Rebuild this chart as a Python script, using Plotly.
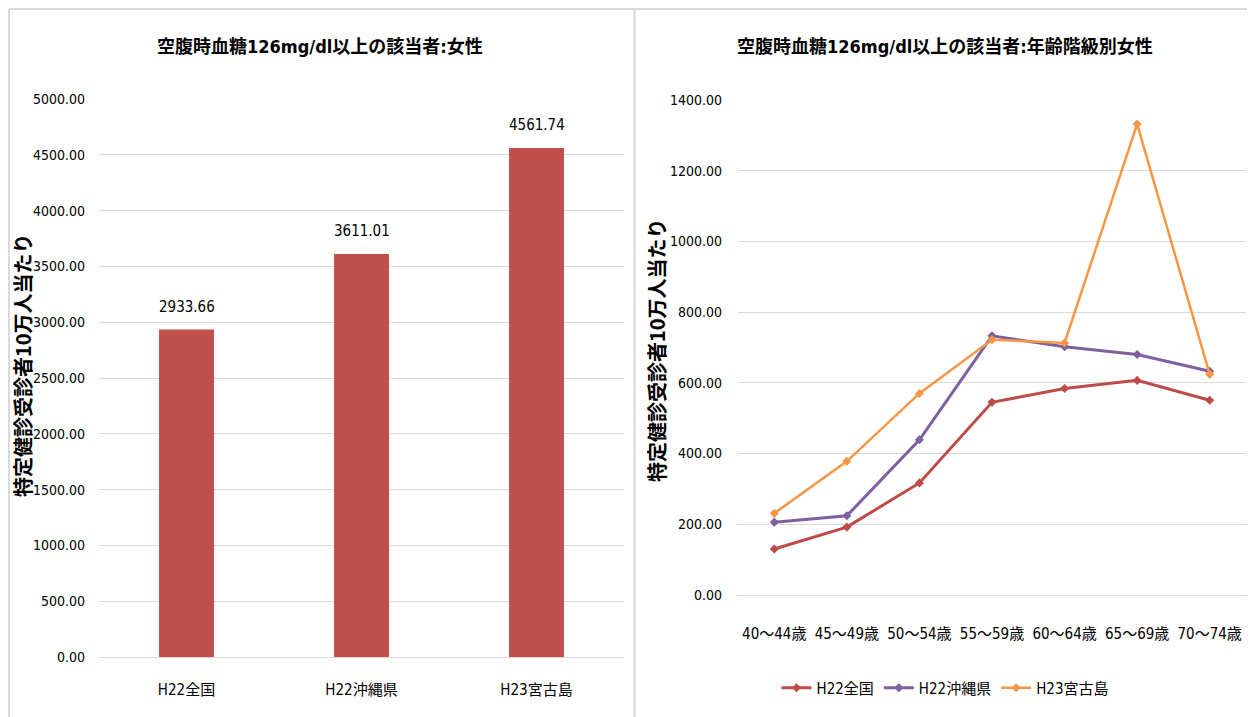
import plotly.graph_objects as go

# ---- data ----
bar_categories = ["H22全国", "H22沖縄県", "H23宮古島"]
bar_values = [2933.66, 3611.01, 4561.74]

age_groups = ["40～44歳", "45～49歳", "50～54歳", "55～59歳", "60～64歳", "65～69歳", "70～74歳"]
series_names = ["H22全国", "H22沖縄県", "H23宮古島"]
national = [130, 192, 317, 545, 584, 607, 551]
okinawa = [206, 224, 439, 733, 702, 680, 633]
miyako = [231, 378, 570, 722, 713, 1332, 624]

left_title = "空腹時血糖126mg/dl以上の該当者:女性"
right_title = "空腹時血糖126mg/dl以上の該当者:年齢階級別女性"
y_title = "特定健診受診者10万人当たり"

W, H = 1255, 717
OFF = 8  # page body margin
FONT = "Liberation Sans Narrow, DejaVu Sans Condensed, Noto Sans CJK JP, sans-serif"
CJK = "Noto Sans CJK JP"
GRID = "#D9D9D9"
TXT = "#000000"

def px(x):
    return (x - OFF) / W

def py(y):
    return 1 - (y - OFF) / H

fig = go.Figure()

# left bar chart
fig.add_trace(go.Bar(
    x=bar_categories, y=bar_values, marker_color="#C0504D",
    marker_line_width=0, xaxis="x", yaxis="y", showlegend=False,
))
for c, v in zip(bar_categories, bar_values):
    fig.add_annotation(x=c, y=v, xref="x", yref="y", text=f"{v:.2f}",
                       showarrow=False, yshift=23, xanchor="center", yanchor="middle",
                       font=dict(family=FONT, size=15, color=TXT))

colors = ["#BE4B48", "#7D60A0", "#F79646"]
widths = [3, 3, 2.5]
for name, vals, col, w in zip(series_names, [national, okinawa, miyako], colors, widths):
    fig.add_trace(go.Scatter(
        x=age_groups, y=vals, name=name, mode="lines+markers",
        line=dict(color=col, width=w),
        marker=dict(color=col, size=7, symbol="diamond"),
        xaxis="x2", yaxis="y2",
    ))

axis_font = dict(family=FONT, size=14, color=TXT)
xcat_font = dict(family=FONT, size=15, color=TXT)

fig.update_layout(
    width=W, height=H,
    margin=dict(l=0, r=0, t=0, b=0, pad=0),
    paper_bgcolor="white", plot_bgcolor="white",
    bargap=0.686,
    xaxis=dict(domain=[px(99), px(624)], anchor="y", tickfont=xcat_font,
               showgrid=False, showline=False, ticks="", automargin=False,
               range=[-0.5, 2.5], ticklabelstandoff=22),
    yaxis=dict(domain=[py(657), py(99)], anchor="x", range=[0, 5000],
               dtick=500, tickformat=".2f", tickfont=axis_font, automargin=False,
               gridcolor=GRID, gridwidth=1, zeroline=True, zerolinecolor=GRID,
               zerolinewidth=1, showline=False, ticks="", ticklabelstandoff=13),
    xaxis2=dict(domain=[px(738), px(1246)], anchor="y2", tickfont=xcat_font,
                showgrid=False, showline=False, ticks="", range=[-0.5, 6.5],
                automargin=False, ticklabelstandoff=28),
    yaxis2=dict(domain=[py(595), py(100)], anchor="x2", range=[0, 1400],
                dtick=200, tickformat=".2f", tickfont=axis_font, automargin=False,
                gridcolor=GRID, gridwidth=1, zeroline=True, zerolinecolor=GRID,
                zerolinewidth=1, showline=False, ticks="", ticklabelstandoff=15),
    legend=dict(orientation="h", x=px(945), y=py(688), xanchor="center",
                yanchor="middle", font=dict(family=FONT, size=15, color=TXT),
                itemwidth=30, tracegroupgap=0, bgcolor="rgba(0,0,0,0)"),
    showlegend=True,
)

# titles
fig.add_annotation(x=px(320), y=py(47), xref="paper", yref="paper",
                   xanchor="center", yanchor="middle",
                   text=f"<b>{left_title}</b>", showarrow=False,
                   font=dict(family=FONT, size=18, color=TXT))
fig.add_annotation(x=px(945), y=py(47), xref="paper", yref="paper",
                   xanchor="center", yanchor="middle",
                   text=f"<b>{right_title}</b>", showarrow=False,
                   font=dict(family=FONT, size=18, color=TXT))
# y axis titles
fig.add_annotation(x=px(22), y=py(365), xref="paper", yref="paper",
                   xanchor="center", yanchor="middle",
                   text=f"<b>{y_title}</b>", showarrow=False, textangle=-90,
                   font=dict(family=CJK, size=20, color=TXT))
fig.add_annotation(x=px(656), y=py(350), xref="paper", yref="paper",
                   xanchor="center", yanchor="middle",
                   text=f"<b>{y_title}</b>", showarrow=False, textangle=-90,
                   font=dict(family=CJK, size=20, color=TXT))

# panel frames
for x0, y0, x1, y1 in [(9, 9, 1263, 9), (9, 9, 9, 725), (634.5, 9, 634.5, 725)]:
    fig.add_shape(type="line", xref="paper", yref="paper",
                  x0=px(x0), y0=py(y0), x1=px(x1), y1=py(y1),
                  line=dict(color=GRID, width=2))

fig.write_html("out.html")
